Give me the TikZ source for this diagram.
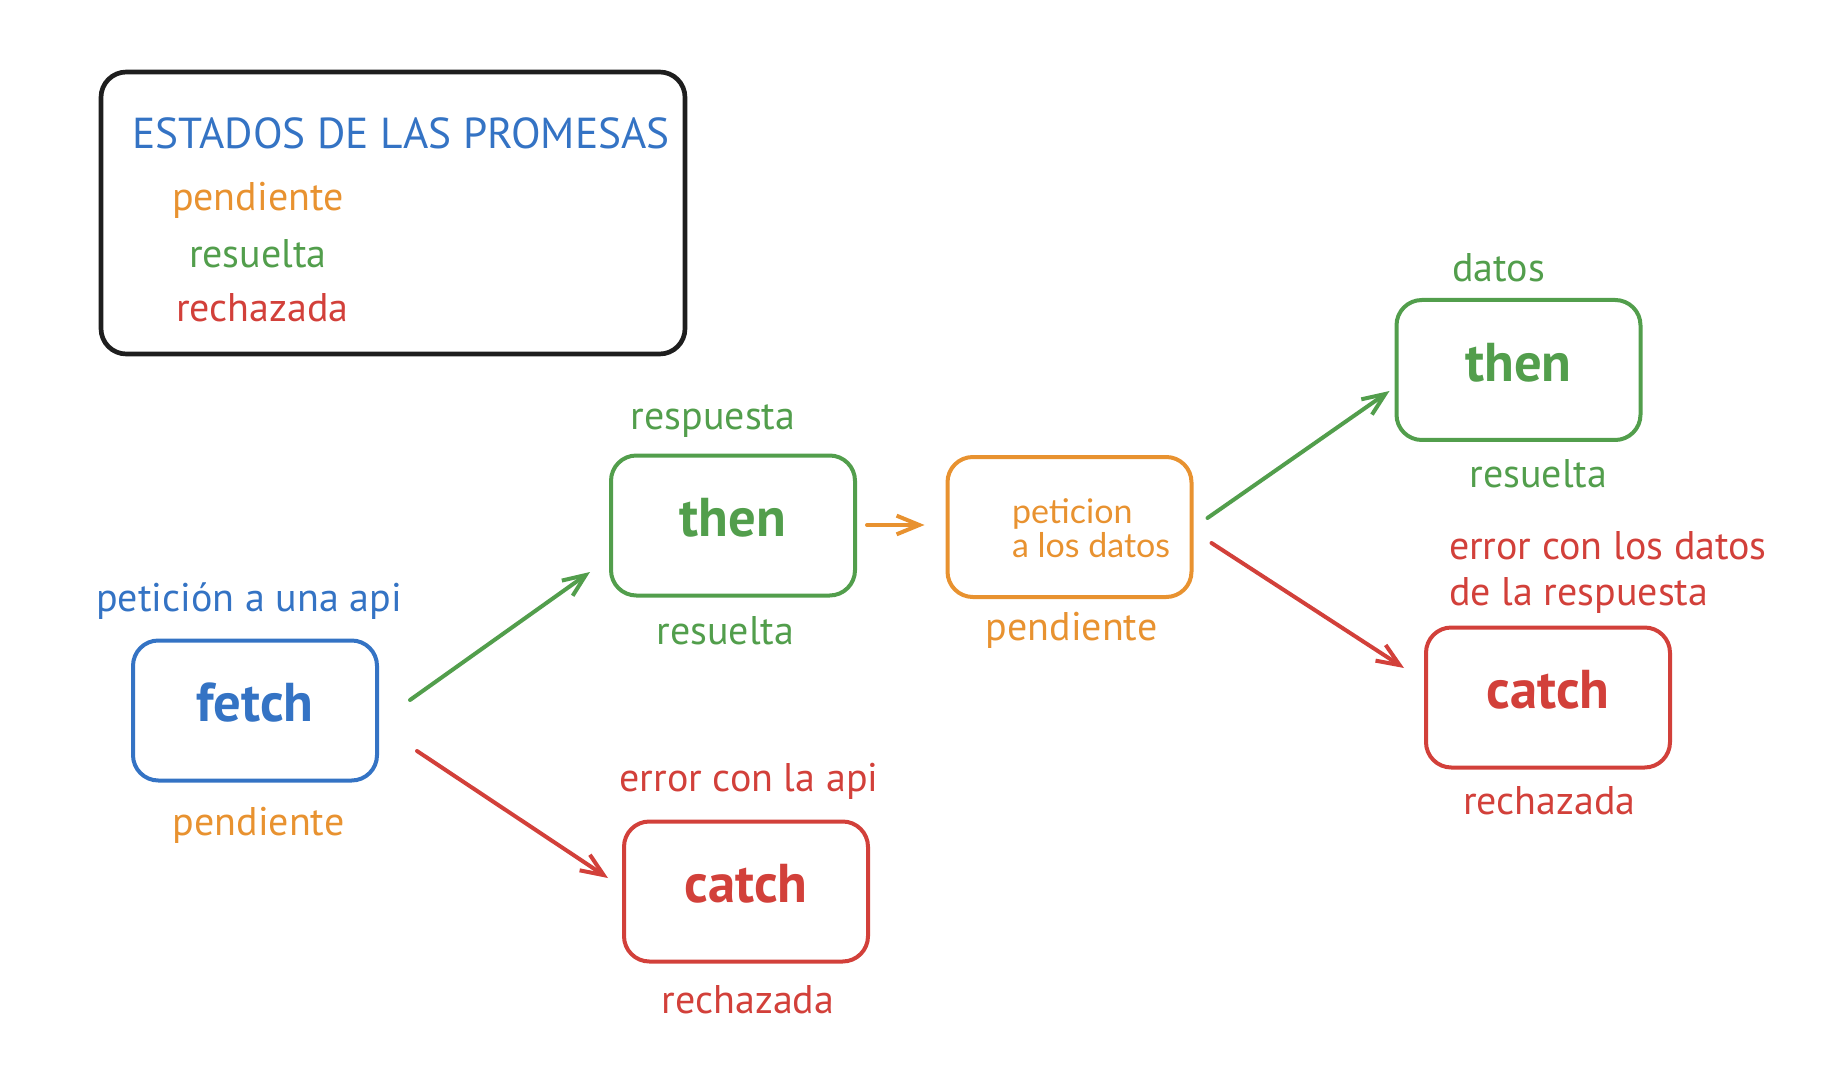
\documentclass[tikz,border=0pt]{standalone}
\usepackage{fontspec}
\setmainfont{PT Sans}
\newfontfamily\cajafont{Lato}
\usetikzlibrary{arrows.meta,calc}

\definecolor{azul}{RGB}{52,115,196}
\definecolor{verde}{RGB}{82,158,76}
\definecolor{rojo}{RGB}{210,64,58}
\definecolor{naranja}{RGB}{232,146,48}
\definecolor{negro}{RGB}{30,30,30}

\tikzset{every picture/.style={line width=3pt}}
\tikzset{
  estado/.style={draw, rounded corners=19pt, minimum width=183pt, minimum height=105pt, inner sep=0pt, text depth=12pt, font=\bfseries\fontsize{41}{44}\selectfont},
  etiqueta/.style={anchor=base, inner sep=0pt, font=\fontsize{30}{34}\selectfont},
  leyenda/.style={anchor=base west, inner sep=0pt, font=\fontsize{30}{34}\selectfont},
  flecha/.style={-{Straight Barb[length=17pt,width=14pt]}, line cap=round, line join=round},
}

\begin{document}
\begin{tikzpicture}[x=0.75pt,y=0.75pt,yscale=-1,xscale=1]
\useasboundingbox (0,0) rectangle (1842,1080);

%Shape: Rectangle [legend]
\draw (393,213) node [draw, negro, line width=3.5pt, rounded corners=19pt, minimum width=438pt, minimum height=211.5pt] (leyenda) {};
% Text Node
\draw (130,148.6) node [leyenda, azul, font=\fontsize{32.5}{36}\selectfont] (titulo) {ESTADOS DE LAS PROMESAS};
% Text Node
\draw (170,210.5) node [leyenda, naranja] (leypendiente) {pendiente};
% Text Node
\draw (187,267.8) node [leyenda, verde] (leyresuelta) {resuelta};
% Text Node
\draw (174,322) node [leyenda, rojo] (leyrechazada) {rechazada};

%Shape: Boxes
\draw (255,710.5) node [estado, azul] (fetch) {fetch};
\draw (733,525.5) node [estado, verde] (then1) {then};
\draw (746,891.5) node [estado, rojo] (catch1) {catch};
\draw (1069.5,527) node [estado, naranja] (peticion) {};
\draw (1518.5,370) node [estado, verde] (then2) {then};
\draw (1548,697.5) node [estado, rojo] (catch2) {catch};
% Text Node
\draw (1010,497) node [anchor=north west, inner sep=0pt, align=left, naranja, font=\cajafont\fontsize{25.5}{25}\selectfont] (peticiontexto) {peticion\\a los datos};

%Straight Lines
\draw [flecha, verde] ($(fetch.east)+(31,-10.5)$) -- ($(then1.west)+(-19,46.5)$);
\draw [flecha, rojo] ($(fetch.east)+(38,40.5)$) -- ($(catch1.west)+(-14,-13.5)$);
\draw [flecha, naranja] ($(then1.east)+(10,-0.5)$) -- ($(peticion.west)+(-21,-2)$);
\draw [flecha, verde] ($(peticion.east)+(14,-9)$) -- ($(then2.west)+(-5,21)$);
\draw [flecha, rojo] ($(peticion.east)+(18,16)$) -- ($(catch2.west)+(-20,-29.5)$);

% Text Node
\draw (249,611) node [etiqueta, azul] (api) {petición a una api};
% Text Node
\draw (258.5,835.5) node [etiqueta, naranja] (fetchpendiente) {pendiente};
% Text Node
\draw (713,430) node [etiqueta, verde] (respuesta) {respuesta};
% Text Node
\draw (725.5,644) node [etiqueta, verde] (thenresuelta) {resuelta};
% Text Node
\draw (749,791) node [etiqueta, rojo] (errorapi) {error con la api};
% Text Node
\draw (748,1013.5) node [etiqueta, rojo] (catchrechazada) {rechazada};
% Text Node
\draw (1071.5,640) node [etiqueta, naranja] (peticionpendiente) {pendiente};
% Text Node
\draw (1498.5,282) node [etiqueta, verde] (datos) {datos};
% Text Node
\draw (1538.5,487) node [etiqueta, verde] (datosresuelta) {resuelta};
% Text Node
\draw (1447,559) node [leyenda, rojo] (errordatos) {error con los datos};
% Text Node
\draw (1447,605) node [leyenda, rojo] (errorrespuesta) {de la respuesta};
% Text Node
\draw (1549.5,814) node [etiqueta, rojo] (datosrechazada) {rechazada};

\end{tikzpicture}
\end{document}
